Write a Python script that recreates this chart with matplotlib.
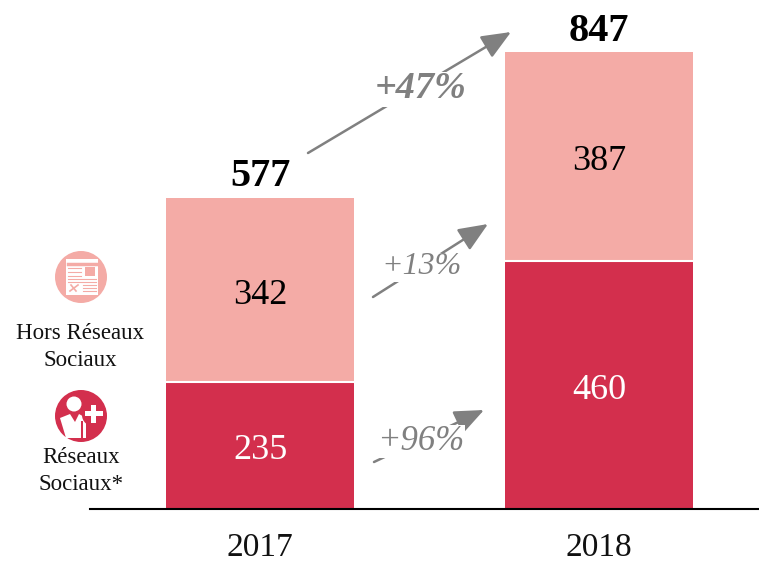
import matplotlib
matplotlib.use('Agg')
import matplotlib.pyplot as plt
from matplotlib.patches import Circle, Rectangle, Polygon

plt.rcParams['font.family'] = ['Liberation Serif', 'DejaVu Serif']

years = ['2017', '2018']
sociaux = [235, 460]
hors = [342, 387]
totals = [577, 847]
growth = ['+96%', '+13%', '+47%']

DARK = '#D32F4D'
LIGHT = '#F4ABA6'
GREY = '#808080'

fig = plt.figure(figsize=(7.59, 5.63), dpi=100)

# chart area: baseline at y=509px, from x=90px to the right edge
ax = fig.add_axes([90 / 759, (563 - 509) / 563, 669 / 759, 509 / 563])
ax.bar([0, 1], sociaux, width=0.552, color=DARK, linewidth=0)
ax.bar([0, 1], hors, width=0.552, bottom=sociaux, color=LIGHT, linewidth=0)
ax.hlines(sociaux, [-0.276, 0.724], [0.276, 1.276], color='white', lw=1.5)
ax.set_xlim(-0.5015, 1.472)
ax.set_ylim(0, 943)
for s in ['top', 'left', 'right']:
    ax.spines[s].set_visible(False)
ax.spines['bottom'].set_linewidth(1.5)
ax.set_yticks([])
ax.set_xticks([0, 1])
ax.set_xticklabels(years, fontsize=24, color='#111111')
ax.tick_params(axis='x', length=0, pad=17)

for i in range(2):
    ax.text(i, sociaux[i] / 2 - 10, str(sociaux[i]), ha='center', va='center', fontsize=26, color='white')
    ax.text(i, sociaux[i] + hors[i] / 2 - 10, str(hors[i]), ha='center', va='center', fontsize=26, color='black')
    ax.text(i, totals[i] + 4, str(totals[i]), ha='center', va='bottom', fontsize=29,
            fontweight='bold', color='black')

# overlay in pixel coordinates for arrows and legend
ov = fig.add_axes([0, 0, 1, 1])
ov.set_xlim(0, 759)
ov.set_ylim(563, 0)
ov.axis('off')
ov.patch.set_alpha(0)


def arrow(x0, y0, x1, y1, label, lx, ly, size):
    ov.annotate('', xy=(x1, y1), xytext=(x0, y0),
                arrowprops=dict(arrowstyle='-|>,head_length=1.0,head_width=0.42', color=GREY,
                                lw=1.8, shrinkA=0, shrinkB=0, mutation_scale=18))
    ov.text(lx, ly, label, ha='center', va='center', fontsize=size, style='italic', color=GREY,
            bbox=dict(facecolor='white', edgecolor='none', pad=0))


arrow(374, 462, 484, 410, growth[0], 421, 441, 25)
arrow(373, 297, 488, 224, growth[1], 421, 267, 23)
arrow(308, 153, 511, 32, growth[2], 421, 89, 27.5)
ov.texts[-1].set_fontweight('bold')

# legend labels
ov.text(80, 347, 'Hors Réseaux\nSociaux', ha='center', va='center', fontsize=16.5,
        color='#111111', linespacing=1.4)
ov.text(81, 471, 'Réseaux\nSociaux*', ha='center', va='center', fontsize=16.5,
        color='#111111', linespacing=1.4)

# newsletter icon
ov.add_patch(Circle((81, 277), 26, color=LIGHT, lw=0))
ov.add_patch(Rectangle((66, 259), 32, 36, color='white', lw=0))
ov.plot([68, 96], [263.5, 263.5], color=LIGHT, lw=2.5)
for y in [268, 272, 276]:
    ov.plot([68, 81], [y, y], color=LIGHT, lw=0.8)
for y in [285, 288, 291]:
    ov.plot([83, 96], [y, y], color=LIGHT, lw=0.8)
for y in [279, 282]:
    ov.plot([68, 96], [y, y], color=LIGHT, lw=0.8)
ov.add_patch(Rectangle((85, 267), 10, 9, color=LIGHT, lw=0))
ov.plot([70, 78], [291, 285], color=LIGHT, lw=1.2)
ov.plot([71, 76], [285, 291], color=LIGHT, lw=1.2)

# social network icon
ov.add_patch(Circle((81, 416), 26, color=DARK, lw=0))
ov.add_patch(Circle((74, 404), 7.5, color='white', lw=0))
ov.add_patch(Polygon([[60, 418], [70, 414], [75, 422], [79, 414], [86, 418], [86, 438],
                      [66, 438]], color='white', lw=0))
ov.add_patch(Rectangle((81, 421), 1.5, 18, color=DARK, lw=0))
ov.add_patch(Circle((93, 415), 11, color=DARK, lw=0))
ov.add_patch(Rectangle((91, 405), 5, 18, color='white', lw=0))
ov.add_patch(Rectangle((85, 411), 18, 5, color='white', lw=0))

fig.savefig('out.png', dpi=100)
